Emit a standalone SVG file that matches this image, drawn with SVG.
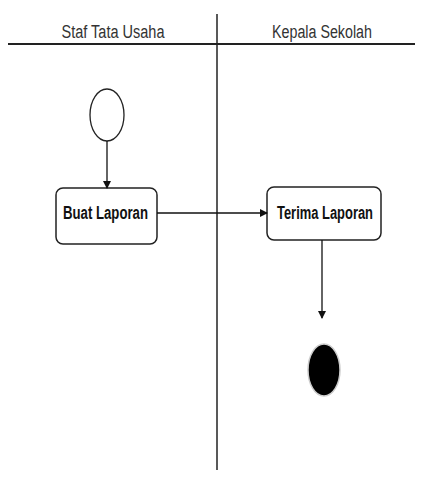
<svg xmlns="http://www.w3.org/2000/svg" width="425" height="477" viewBox="0 0 425 477">
<defs>
<style>
.hdr{font-family:"Liberation Sans",Arial,sans-serif;font-size:18px;fill:#333;text-anchor:middle}
.lbl{font-family:"Liberation Sans",Arial,sans-serif;font-size:18px;font-weight:bold;fill:#111;text-anchor:middle}
.box{fill:#fff;stroke:#222;stroke-width:1.5}
.edge{stroke:#111;stroke-width:1.3;fill:none;marker-end:url(#ah)}
</style>
<marker id="ah" markerWidth="8" markerHeight="8" refX="7" refY="4" orient="auto" markerUnits="userSpaceOnUse">
<path d="M0,0 L8,4 L0,8 Z" fill="#111"/>
</marker>
</defs>
<rect width="425" height="477" fill="#fff"/>
<g id="lanes">
<line x1="8" y1="44" x2="415" y2="44" stroke="#222" stroke-width="2"/>
<line x1="217" y1="14" x2="217" y2="470" stroke="#222" stroke-width="1.5"/>
<text class="hdr" x="113" y="38" textLength="103" lengthAdjust="spacingAndGlyphs">Staf Tata  Usaha</text>
<text class="hdr" x="322" y="38" textLength="100" lengthAdjust="spacingAndGlyphs">Kepala Sekolah</text>
</g>
<g id="start">
<ellipse cx="107" cy="115" rx="17" ry="26" fill="#fff" stroke="#222" stroke-width="1.3"/>
</g>
<g id="buat">
<rect class="box" x="56" y="188" width="101" height="56" rx="7"/>
<text class="lbl" x="105.5" y="219" textLength="85" lengthAdjust="spacingAndGlyphs">Buat Laporan</text>
</g>
<g id="terima">
<rect class="box" x="267" y="187" width="114" height="53" rx="7"/>
<text class="lbl" x="325" y="219" textLength="96" lengthAdjust="spacingAndGlyphs">Terima Laporan</text>
</g>
<g id="end">
<ellipse cx="324" cy="370" rx="16" ry="26" fill="#000" stroke="#ccc" stroke-width="1.5"/>
</g>
<g id="connectors">
<line class="edge" x1="107" y1="141" x2="107" y2="188"/>
<line class="edge" x1="157" y1="213" x2="267" y2="213"/>
<line class="edge" x1="322" y1="240" x2="322" y2="318"/>
</g>
</svg>
